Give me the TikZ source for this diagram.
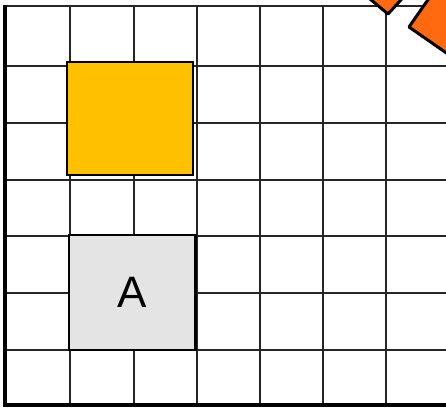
\documentclass[tikz,border=0pt]{standalone}
\usepackage{fontspec}
\setmainfont{Liberation Sans}
\definecolor{gold}{HTML}{FFC000}
\definecolor{orng}{HTML}{FF6A10}
\definecolor{lightgr}{HTML}{E4E4E4}
\begin{document}
\begin{tikzpicture}[x=1pt,y=-1pt,
  gridline/.style={line width=2pt,black!85},
  borderline/.style={line width=3.4pt,black},
  block/.style={draw=black,line width=1.8pt,inner sep=0pt,minimum width=126pt},
  tile/.style={draw=black,line width=3pt,fill=orng,line join=round}]
\useasboundingbox (0,0) rectangle (446,407);
\clip (0,0) rectangle (446,407);
\fill[white] (0,0) rectangle (446,407);
% grid
\foreach \x in {70,134,197,260,323,386} \draw[gridline] (\x,6) -- (\x,405);
\foreach \y in {66,123,180,236,293,350} \draw[gridline] (5,\y) -- (450,\y);
\draw[gridline] (4,6) -- (450,6);
\draw[borderline] (5,5) -- (5,405) -- (450,405);
% blocks
\node[block,fill=gold,minimum height=113pt] (y) at (130,118.5) {};
\node[block,fill=lightgr,minimum height=115pt,font=\fontsize{44}{44}\selectfont] (a) at (132,292.5) {A};
\draw[line width=2.6pt] (a.north east) -- (a.south east);
% orange tiles
\draw[tile] (388,14) -- (364,-6) -- (386,-32) -- (410,-10) -- cycle;
\draw[tile] (409,27) -- (437.5,-14) -- (478.5,14.5) -- (450,55.5) -- cycle;
\end{tikzpicture}
\end{document}
